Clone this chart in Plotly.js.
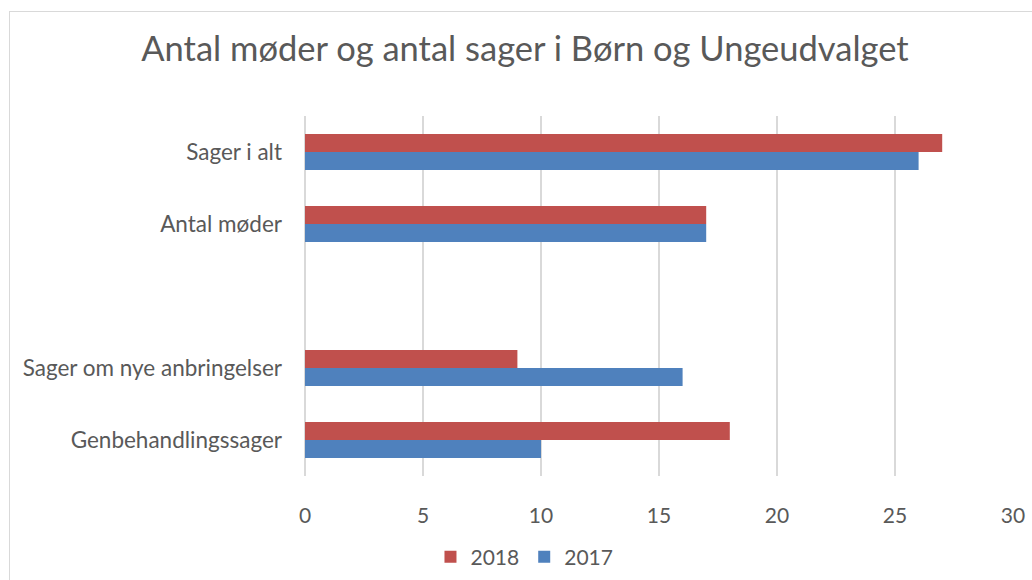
<!DOCTYPE html>
<html>
<head>
<meta charset="utf-8">
<script src="https://cdn.plot.ly/plotly-3.0.1.min.js"></script>
<style>
html,body{margin:0;padding:0;background:#fff;}
#wrap{position:relative;width:1032px;height:580px;overflow:hidden;}
#chart{width:1032px;height:580px;}
#frame{position:absolute;left:9px;top:11px;width:1100px;height:700px;border:1px solid #D9D9D9;box-sizing:border-box;pointer-events:none;}
</style>
</head>
<body>
<div id="wrap"><div id="chart"></div><div id="frame"></div></div>
<script>
// Categories listed bottom to top (Plotly category axis order)
const categories = ['Genbehandlingssager', 'Sager om nye anbringelser', ' ', 'Antal møder', 'Sager i alt'];
const values2017 = [10, 16, null, 17, 26];
const values2018 = [18, 9, null, 17, 27];
const seriesNames = ['2017', '2018'];
const xTicks = [0, 5, 10, 15, 20, 25, 30];

const font = 'Lato, "Open Sans", sans-serif';
const traces = [
  {type:'bar', orientation:'h', name:seriesNames[0], y:categories, x:values2017,
   marker:{color:'#4F81BD'}, hoverinfo:'x+name'},
  {type:'bar', orientation:'h', name:seriesNames[1], y:categories, x:values2018,
   marker:{color:'#C0504D'}, hoverinfo:'x+name'}
];
const layout = {
  width:1032, height:580,
  margin:{l:305, r:19, t:116, b:104, autoexpand:false},
  paper_bgcolor:'#fff', plot_bgcolor:'#fff',
  font:{family:font, color:'#595959', size:21},
  title:{text:'Antal møder og antal sager i Børn og Ungeudvalget', x:525/1032, xref:'container', xanchor:'center', y:0.915, yanchor:'middle',
         font:{family:font, size:34.5, color:'#595959'}},
  barmode:'group', bargap:0.5, bargroupgap:0,
  xaxis:{range:[0,30], tickvals:xTicks, ticktext:xTicks.map(String), showgrid:true, gridcolor:'#D9D9D9', gridwidth:1.5,
         zeroline:true, zerolinecolor:'#D9D9D9', zerolinewidth:1.5, showline:false, ticks:'', ticklen:0,
         tickfont:{size:21, color:'#595959'}, fixedrange:true, automargin:false, ticklabelstandoff:25},
  yaxis:{type:'category', categoryorder:'array', categoryarray:categories, showgrid:false, zeroline:false, showline:false,
         ticks:'', tickfont:{size:22.5, color:'#595959'}, automargin:false, ticklabelstandoff:22, fixedrange:true},
  legend:{orientation:'h', x:0.31, xanchor:'center', y:-0.225, yanchor:'middle', traceorder:'reversed',
          font:{size:21, color:'#595959'}, itemwidth:30},
  showlegend:true
};
Plotly.newPlot('chart', traces, layout, {displayModeBar:false, staticPlot:true});
</script>
</body>
</html>
